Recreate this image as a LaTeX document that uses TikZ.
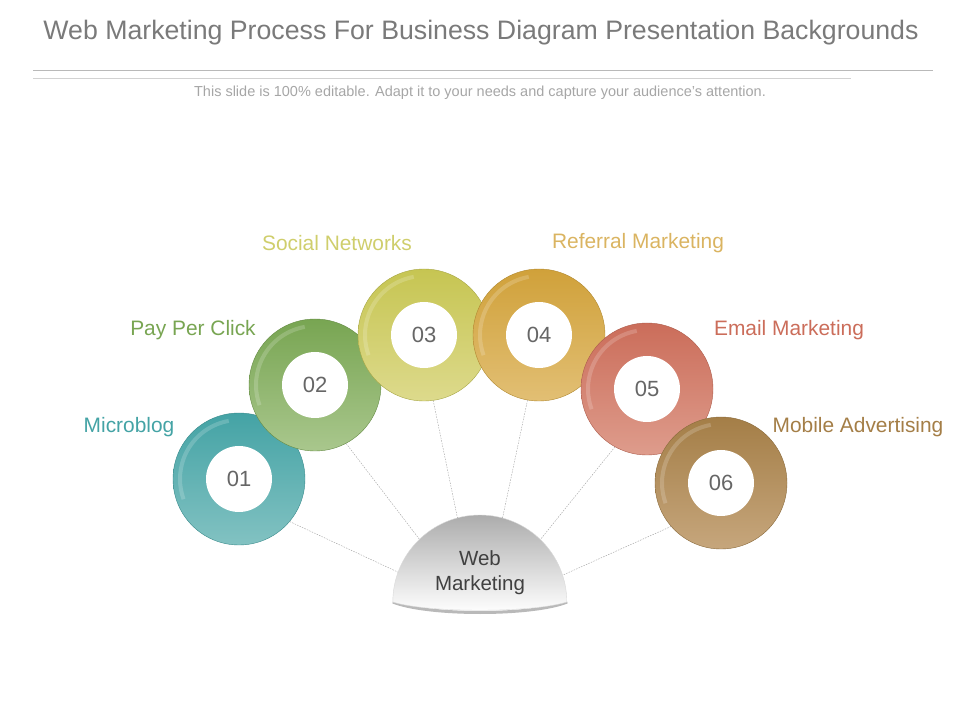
\documentclass[tikz,border=0pt]{standalone}
\usepackage{fontspec}
\setmainfont{Liberation Sans}
\usetikzlibrary{positioning}
\definecolor{titlegray}{HTML}{7A7A7A}
\definecolor{subgray}{HTML}{A6A6A6}
\definecolor{numgray}{HTML}{666666}
\definecolor{tealdark}{HTML}{44A3A5}
\definecolor{teallight}{HTML}{82C2C2}
\definecolor{greendark}{HTML}{78A552}
\definecolor{greenlight}{HTML}{A9C78D}
\definecolor{yellowdark}{HTML}{C6C552}
\definecolor{yellowlight}{HTML}{DDDA8C}
\definecolor{golddark}{HTML}{D0A13A}
\definecolor{goldlight}{HTML}{E2BF74}
\definecolor{salmondark}{HTML}{CB6D5A}
\definecolor{salmonlight}{HTML}{DE9C8C}
\definecolor{browndark}{HTML}{A47E47}
\definecolor{brownlight}{HTML}{C6A67C}
\tikzstyle{ring}=[circle, minimum size=132pt, inner sep=0pt, thin]
\tikzstyle{hole}=[circle, fill=white, minimum size=66pt, inner sep=0pt, text=numgray, font=\fontsize{22}{22}\selectfont]
\tikzstyle{topic}=[font=\fontsize{20.9}{21}\selectfont]
\tikzstyle{link}=[gray!75, thin, dash pattern=on 1.5pt off 1.2pt]
\tikzstyle{hub}=[circle, minimum size=174pt, inner sep=0pt]
\newcommand{\drawring}[5]{
  \node[ring, top color=#3, bottom color=#4, draw=#3!85!black] (#1) at (#2) {};
  \draw[white, opacity=0.18, line width=4pt] (#1.center) ++(100:59) arc[start angle=100, end angle=200, radius=59];
  \node[hole] (#1n) at (#1.center) {#5};
}

\begin{document}
\begin{tikzpicture}[x=1pt, y=1pt]
    \useasboundingbox (0,0) rectangle (960,720);
    \node[text=titlegray, font=\fontsize{26.7}{28}\selectfont] (title) at (481,687) {Web Marketing Process For Business Diagram Presentation Backgrounds};
    \draw[gray!55] (33,650) -- (933,650);
    \draw[gray!35] (33,642) -- (851,642);
    \node[text=subgray, font=\fontsize{14.5}{15}\selectfont] (sub) at (480,627) {This slide is 100\% editable. Adapt it to your needs and capture your audience's attention.};
    % rings
    \drawring{c1}{239,241}{tealdark}{teallight}{01}
    \drawring{c2}{315,335}{greendark}{greenlight}{02}
    \drawring{c3}{424,385}{yellowdark}{yellowlight}{03}
    \drawring{c4}{539,385}{golddark}{goldlight}{04}
    \drawring{c5}{647,331}{salmondark}{salmonlight}{05}
    \drawring{c6}{721,237}{browndark}{brownlight}{06}
    % labels
    \node[topic, text=tealdark] (l1) at (129,293) {Microblog};
    \node[topic, text=greendark] (l2) at (193,390) {Pay Per Click};
    \node[topic, text=yellowdark!85!white] (l3) at (337,477) {Social Networks};
    \node[topic, text=golddark!80!white] (l4) at (638,477) {Referral Marketing};
    \node[topic, text=salmondark] (l5) at (789,390) {Email Marketing};
    \node[topic, text=browndark] (l6) at (858,293) {Mobile Advertising};
    % dome
    \node[hub] (web) at (480,118) {};
    \draw[gray!55, line width=3pt] (web.east) .. controls +(-35,-14) and +(35,-14) .. (web.west);
    \shade[top color=gray!65, bottom color=white, draw=gray!30] (web.west) arc[start angle=180, end angle=0, radius=87] .. controls +(-35,-11) and +(35,-11) .. (web.west);
    \node[align=center, text=black!75, font=\fontsize{20.5}{25}\selectfont] (webtext) at (480,147) {Web\\Marketing};
    \draw[link] (c1.-40) -- (web.160);
    \draw[link] (c2.-62) -- (web.134);
    \draw[link] (c3.-82) -- (web.105);
    \draw[link] (c4.-100) -- (web.75);
    \draw[link] (c5.-119) -- (web.46);
    \draw[link] (c6.-139) -- (web.18);
\end{tikzpicture}
\end{document}
